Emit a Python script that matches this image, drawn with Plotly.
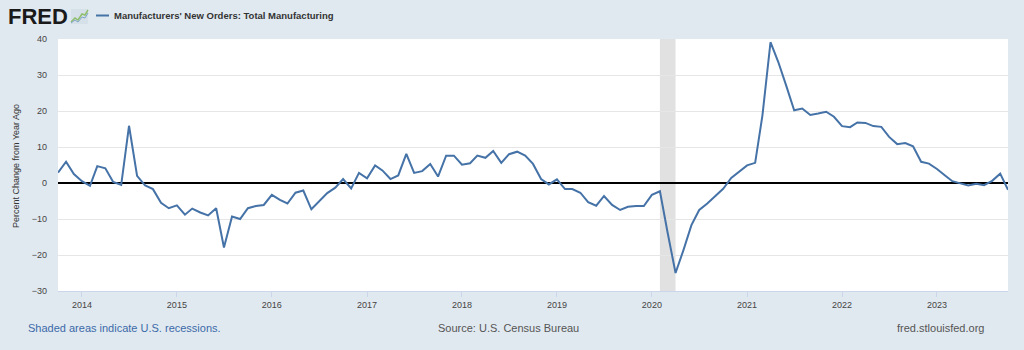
import pandas as pd
import plotly.graph_objects as go

# Monthly data, 2013-10 .. 2023-10 (percent change from year ago)
start_month = "2013-10-01"
values = [
    2.9, 5.9, 2.5,                                   # 2013 Oct-Dec
    0.5, -0.8, 4.7, 4.1, 0.3, -0.5, 15.9, 2.0, -0.7, -1.7, -5.5, -7.0,   # 2014
    -6.2, -8.8, -7.1, -8.2, -9.0, -7.0, -17.9, -9.3, -10.0, -7.0, -6.4, -6.1,  # 2015
    -3.3, -4.7, -5.7, -2.7, -2.1, -7.3, -5.1, -2.8, -1.3, 1.1, -1.5, 2.8,   # 2016
    1.3, 4.9, 3.5, 1.1, 2.1, 8.1, 2.8, 3.3, 5.3, 1.8, 7.6, 7.6,            # 2017
    5.1, 5.5, 7.6, 7.0, 8.9, 5.6, 8.0, 8.7, 7.6, 5.3, 1.1, -0.4,           # 2018
    1.0, -1.7, -1.7, -2.7, -5.3, -6.3, -3.6, -6.1, -7.5, -6.6, -6.4, -6.4,  # 2019
    -3.3, -2.3, -13.6, -25.0, -18.7, -11.7, -7.5, -5.7, -3.6, -1.6, 1.4, 3.2,  # 2020
    4.9, 5.6, 18.8, 39.1, 33.6, 26.9, 20.2, 20.7, 18.9, 19.3, 19.8, 18.4,  # 2021
    15.8, 15.5, 16.8, 16.7, 15.8, 15.6, 12.8, 10.8, 11.1, 10.2, 5.9, 5.4,  # 2022
    3.9, 2.1, 0.5, -0.1, -0.7, -0.2, -0.6, 0.6, 2.6, -1.9,                 # 2023
]
dates = pd.date_range(start_month, periods=len(values), freq="MS")

recession_start = "2020-02-01"
recession_end = "2020-04-01"

series_name = "Manufacturers' New Orders: Total Manufacturing"
y_title = "Percent Change from Year Ago"
y_ticks = [-30, -20, -10, 0, 10, 20, 30, 40]

BG = "#e1e9f0"
LINE = "#4572a7"
FONT = "Liberation Sans"

fig = go.Figure()
fig.add_trace(go.Scatter(
    x=dates, y=values, mode="lines",
    line=dict(color=LINE, width=2),
    name=series_name, showlegend=False, hoverinfo="skip",
))

fig.add_shape(type="rect", xref="x", yref="paper",
              x0=recession_start, x1=recession_end, y0=0, y1=1,
              fillcolor="#e1e1e1", line=dict(width=0), layer="below")

# Plot area geometry (pixels)
L, R, T, B = 58, 16, 39, 59
W, H = 1024 - L - R, 350 - T - B


def px(xpix):
    return (xpix - L) / W


def py(ypix):
    return (350 - B - ypix) / H


# Header: FRED logo + legend
anns = []
anns.append(dict(x=px(6), y=py(16), xref="paper", yref="paper", text="<b>FRED</b>",
                 showarrow=False, xanchor="left", yanchor="middle",
                 font=dict(family=FONT, size=22, color="#1a1a1a")))
fig.add_shape(type="rect", xref="paper", yref="paper",
              x0=px(71), x1=px(88), y0=py(24), y1=py(9),
              fillcolor="#d6e0e8", line=dict(width=0), layer="above")
fig.add_shape(type="path", xref="paper", yref="paper",
              path=f"M {px(71)},{py(22)} L {px(75)},{py(18)} L {px(78)},{py(20)} L {px(82)},{py(14)} L {px(85)},{py(15)} L {px(88)},{py(10)}",
              line=dict(color="#8fbf6a", width=1.5), layer="above")
fig.add_shape(type="path", xref="paper", yref="paper",
              path=f"M {px(71)},{py(23)} L {px(75)},{py(20)} L {px(78)},{py(22)} L {px(82)},{py(17)} L {px(85)},{py(18)} L {px(88)},{py(13)}",
              line=dict(color="#7da3c8", width=1), layer="above")
fig.add_shape(type="line", xref="paper", yref="paper",
              x0=px(96), x1=px(109), y0=py(15.5), y1=py(15.5),
              line=dict(color=LINE, width=2), layer="above")
anns.append(dict(x=px(112), y=py(15.5), xref="paper", yref="paper",
                 text=f"<b>{series_name}</b>", showarrow=False,
                 xanchor="left", yanchor="middle",
                 font=dict(family=FONT, size=9.5, color="#333333")))

# Y-axis title
anns.append(dict(x=px(16), y=py(166), xref="paper", yref="paper", text=y_title,
                 textangle=-90, showarrow=False, xanchor="center", yanchor="middle",
                 font=dict(family=FONT, size=9, color="#333333")))

# Footer
anns.append(dict(x=px(26), y=py(328), xref="paper", yref="paper",
                 text="Shaded areas indicate U.S. recessions.", showarrow=False,
                 xanchor="left", yanchor="middle",
                 font=dict(family=FONT, size=11, color="#3b6aa8")))
anns.append(dict(x=px(508), y=py(328), xref="paper", yref="paper",
                 text="Source: U.S. Census Bureau", showarrow=False,
                 xanchor="center", yanchor="middle",
                 font=dict(family=FONT, size=11, color="#555555")))
anns.append(dict(x=px(986), y=py(328), xref="paper", yref="paper",
                 text="fred.stlouisfed.org", showarrow=False,
                 xanchor="right", yanchor="middle",
                 font=dict(family=FONT, size=11, color="#555555")))

fig.update_layout(
    width=1024, height=350,
    margin=dict(l=L, r=R, t=T, b=B, pad=0),
    paper_bgcolor=BG, plot_bgcolor="white",
    font=dict(family=FONT, size=9, color="#444444"),
    annotations=anns,
    xaxis=dict(
        type="date", range=[dates[0], dates[-1]],
        tick0="2014-01-01", dtick="M12", tickformat="%Y",
        ticks="outside", ticklen=5, tickcolor="#ccd6eb", tickwidth=1,
        showgrid=False, showline=True, linecolor="#ccd6eb", linewidth=1,
        tickfont=dict(family=FONT, size=9, color="#444444"),
        zeroline=False, fixedrange=True,
    ),
    yaxis=dict(
        range=[-30, 40], tickvals=y_ticks,
        showgrid=True, gridcolor="#e6e6e6", gridwidth=1,
        zeroline=True, zerolinecolor="#000000", zerolinewidth=2,
        showline=False, ticks="", ticklabelstandoff=10,
        tickfont=dict(family=FONT, size=9, color="#444444"),
        fixedrange=True,
    ),
)

fig.write_html("out.html", include_plotlyjs=True, config={"displayModeBar": False})
